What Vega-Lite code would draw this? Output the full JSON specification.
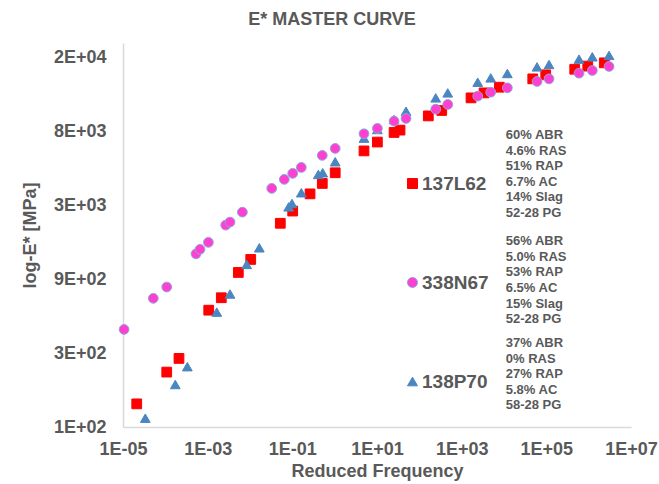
{
  "$schema": "https://vega.github.io/schema/vega-lite/v6.json",
  "width": 508,
  "height": 384,
  "autosize": {"type": "none"},
  "padding": {"left": 123, "top": 43, "right": 28, "bottom": 57},
  "background": "white",
  "title": {"text": "E* MASTER CURVE", "fontSize": 18, "font": "Liberation Sans", "fontWeight": "bold", "color": "#595959", "anchor": "middle", "frame": "group", "dx": -45, "offset": 14},
  "config": {
    "view": {"stroke": null},
    "font": "Liberation Sans",
    "axis": {"domainColor": "#D9D9D9", "domainWidth": 1.5, "ticks": false, "grid": false, "labelFlush": false, "labelFont": "Liberation Sans", "labelFontSize": 18, "labelFontWeight": "bold", "labelColor": "#595959", "titleFont": "Liberation Sans", "titleFontSize": 18, "titleFontWeight": "bold", "titleColor": "#595959"},
    "legend": {"orient": "none", "legendX": 280, "legendY": 131, "padding": 0, "rowPadding": 79, "labelFont": "Liberation Sans", "labelFontSize": 19, "labelFontWeight": "bold", "labelColor": "#595959", "symbolSize": 100, "labelOffset": 0, "symbolStrokeWidth": 1}
  },
  "datasets": {
    "pts": [
      {"mix": "137L62", "freq": 2.11e-5, "E": 141},
      {"mix": "137L62", "freq": 1.08e-4, "E": 226},
      {"mix": "137L62", "freq": 2.10e-4, "E": 277},
      {"mix": "137L62", "freq": 1.06e-3, "E": 567},
      {"mix": "137L62", "freq": 2.10e-3, "E": 682},
      {"mix": "137L62", "freq": 5.3e-3, "E": 993},
      {"mix": "137L62", "freq": 0.0104, "E": 1205},
      {"mix": "137L62", "freq": 0.052, "E": 2061},
      {"mix": "137L62", "freq": 0.102, "E": 2471},
      {"mix": "137L62", "freq": 0.262, "E": 3191},
      {"mix": "137L62", "freq": 0.51, "E": 3725},
      {"mix": "137L62", "freq": 1.03, "E": 4365},
      {"mix": "137L62", "freq": 4.93, "E": 6040},
      {"mix": "137L62", "freq": 10.2, "E": 6888},
      {"mix": "137L62", "freq": 25.3, "E": 7944},
      {"mix": "137L62", "freq": 35, "E": 8226},
      {"mix": "137L62", "freq": 163, "E": 10160},
      {"mix": "137L62", "freq": 338, "E": 11010},
      {"mix": "137L62", "freq": 1663, "E": 13280},
      {"mix": "137L62", "freq": 3375, "E": 14300},
      {"mix": "137L62", "freq": 7760, "E": 15560},
      {"mix": "137L62", "freq": 47800, "E": 17610},
      {"mix": "137L62", "freq": 96800, "E": 18700},
      {"mix": "137L62", "freq": 469000, "E": 20320},
      {"mix": "137L62", "freq": 951000, "E": 21280},
      {"mix": "137L62", "freq": 2340000, "E": 22340},
      {"mix": "138P70", "freq": 3.36e-5, "E": 114},
      {"mix": "138P70", "freq": 1.72e-4, "E": 188},
      {"mix": "138P70", "freq": 3.31e-4, "E": 245},
      {"mix": "138P70", "freq": 1.64e-3, "E": 551},
      {"mix": "138P70", "freq": 3.37e-3, "E": 721},
      {"mix": "138P70", "freq": 8.35e-3, "E": 1119},
      {"mix": "138P70", "freq": 0.0166, "E": 1432},
      {"mix": "138P70", "freq": 0.082, "E": 2630},
      {"mix": "138P70", "freq": 0.098, "E": 2767},
      {"mix": "138P70", "freq": 0.163, "E": 3243},
      {"mix": "138P70", "freq": 0.411, "E": 4259},
      {"mix": "138P70", "freq": 0.522, "E": 4365},
      {"mix": "138P70", "freq": 1.03, "E": 5140},
      {"mix": "138P70", "freq": 4.93, "E": 7300},
      {"mix": "138P70", "freq": 10.2, "E": 8300},
      {"mix": "138P70", "freq": 25.3, "E": 9638},
      {"mix": "138P70", "freq": 48.5, "E": 10890},
      {"mix": "138P70", "freq": 244, "E": 13280},
      {"mix": "138P70", "freq": 469, "E": 14300},
      {"mix": "138P70", "freq": 2395, "E": 16760},
      {"mix": "138P70", "freq": 4857, "E": 17870},
      {"mix": "138P70", "freq": 11990, "E": 19080},
      {"mix": "138P70", "freq": 60300, "E": 21040},
      {"mix": "138P70", "freq": 115800, "E": 21810},
      {"mix": "138P70", "freq": 592000, "E": 23600},
      {"mix": "138P70", "freq": 1220000, "E": 24440},
      {"mix": "138P70", "freq": 3030000, "E": 24960},
      {"mix": "338N67", "freq": 1.06e-5, "E": 426},
      {"mix": "338N67", "freq": 5.2e-5, "E": 676},
      {"mix": "338N67", "freq": 1.08e-4, "E": 800},
      {"mix": "338N67", "freq": 5.3e-4, "E": 1309},
      {"mix": "338N67", "freq": 6.6e-4, "E": 1400},
      {"mix": "338N67", "freq": 1.04e-3, "E": 1552},
      {"mix": "338N67", "freq": 2.67e-3, "E": 2005},
      {"mix": "338N67", "freq": 3.37e-3, "E": 2099},
      {"mix": "338N67", "freq": 6.6e-3, "E": 2432},
      {"mix": "338N67", "freq": 0.0326, "E": 3460},
      {"mix": "338N67", "freq": 0.0646, "E": 3955},
      {"mix": "338N67", "freq": 0.102, "E": 4325},
      {"mix": "338N67", "freq": 0.163, "E": 4723},
      {"mix": "338N67", "freq": 0.51, "E": 5648},
      {"mix": "338N67", "freq": 1.03, "E": 6266},
      {"mix": "338N67", "freq": 4.93, "E": 7787},
      {"mix": "338N67", "freq": 10.2, "E": 8436},
      {"mix": "338N67", "freq": 25.3, "E": 9400},
      {"mix": "338N67", "freq": 48.5, "E": 9781},
      {"mix": "338N67", "freq": 244, "E": 11220},
      {"mix": "338N67", "freq": 469, "E": 12040},
      {"mix": "338N67", "freq": 2395, "E": 13620},
      {"mix": "338N67", "freq": 4857, "E": 14450},
      {"mix": "338N67", "freq": 11990, "E": 15410},
      {"mix": "338N67", "freq": 60300, "E": 16950},
      {"mix": "338N67", "freq": 115800, "E": 17610},
      {"mix": "338N67", "freq": 592000, "E": 19160},
      {"mix": "338N67", "freq": 1220000, "E": 19940},
      {"mix": "338N67", "freq": 3030000, "E": 21180}
    ],
    "notes": [
      {"freq": 11000, "E": 7640, "txt": "60% ABR\n4.6% RAS\n51% RAP\n6.7% AC\n14% Slag\n52-28 PG"},
      {"freq": 11000, "E": 1581, "txt": "56% ABR\n5.0% RAS\n53% RAP\n6.5% AC\n15% Slag\n52-28 PG"},
      {"freq": 11000, "E": 348, "txt": "37% ABR\n0% RAS\n27% RAP\n5.8% AC\n58-28 PG"}
    ]
  },
  "layer": [
    {
      "data": {"name": "pts"},
      "mark": {"type": "point", "filled": true, "opacity": 1, "size": 95, "strokeWidth": 1},
      "encoding": {
        "x": {"field": "freq", "type": "quantitative", "title": "Reduced Frequency",
              "scale": {"type": "log", "domain": [1e-5, 1e7], "nice": false},
              "axis": {"values": [1e-5, 1e-3, 0.1, 10, 1000, 100000, 10000000], "labelPadding": 13, "titlePadding": 4,
                       "labelExpr": "(datum.value >= 1 ? '1E+' : '1E-') + (abs(round(log(datum.value)/LN10)) < 10 ? '0' : '') + abs(round(log(datum.value)/LN10))"}},
        "y": {"field": "E", "type": "quantitative", "title": "log-E* [MPa]",
              "scale": {"type": "log", "domain": [100, 30000], "nice": false},
              "axis": {"values": [100, 300, 900, 2700, 8100, 24300], "labelPadding": 17, "titlePadding": 14,
                       "labelExpr": "round(datum.value/pow(10, floor(log(datum.value)/LN10 + 1e-9))) + 'E+0' + floor(log(datum.value)/LN10 + 1e-9)"}},
        "shape": {"field": "mix", "type": "nominal", "title": null,
                  "scale": {"domain": ["137L62", "338N67", "138P70"], "range": ["square", "circle", "triangle-up"]}},
        "fill": {"field": "mix", "type": "nominal", "title": null,
                 "scale": {"domain": ["137L62", "338N67", "138P70"], "range": ["#FF0000", "#FF3FCF", "#4A86C0"]}},
        "stroke": {"field": "mix", "type": "nominal", "title": null,
                   "scale": {"domain": ["137L62", "338N67", "138P70"], "range": ["#FF0000", "#8AA4E6", "#4A86C0"]}}
      }
    },
    {
      "data": {"name": "notes"},
      "mark": {"type": "text", "align": "left", "baseline": "middle", "fontSize": 13, "fontWeight": "bold", "color": "#595959", "lineBreak": "\n", "lineHeight": 15.6, "font": "Liberation Sans"},
      "encoding": {
        "x": {"field": "freq", "type": "quantitative"},
        "y": {"field": "E", "type": "quantitative"},
        "text": {"field": "txt", "type": "nominal"}
      }
    }
  ]
}
